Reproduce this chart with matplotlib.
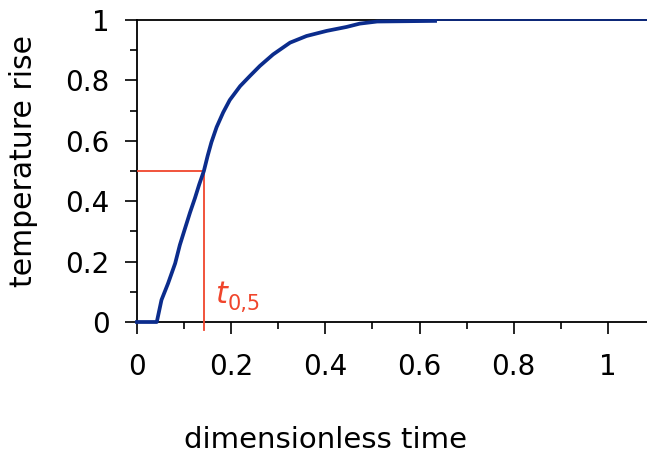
import matplotlib.pyplot as plt
from matplotlib.ticker import MultipleLocator

plt.rcParams['font.family'] = ['DejaVu Sans']

# normalised rear-face temperature vs dimensionless time
t = [0, 0.042, 0.052, 0.066, 0.081, 0.091, 0.102, 0.1125, 0.123, 0.132, 0.142,
     0.150, 0.158, 0.169, 0.183, 0.197, 0.219, 0.240, 0.261, 0.289, 0.325,
     0.360, 0.403, 0.445, 0.473, 0.51, 0.633]
v = [0, 0, 0.073, 0.128, 0.194, 0.255, 0.31, 0.362, 0.41, 0.455, 0.50,
     0.55, 0.595, 0.645, 0.694, 0.735, 0.781, 0.815, 0.848, 0.886, 0.925,
     0.947, 0.964, 0.977, 0.988, 0.995, 0.997]
t_tail = [0.633, 1.083]
v_tail = [1.0, 1.0]
t_half = 0.142
v_half = 0.5

blue = '#0b2c8c'
red = '#f0452c'

fig = plt.figure(figsize=(6.47, 4.55), dpi=100)
ax = fig.add_axes([137/647, 133/455, 510/647, 302/455])

ax.plot(t, v, color=blue, lw=2.7, solid_joinstyle='round', zorder=4, clip_on=False)
ax.plot(t_tail, v_tail, color=blue, lw=1.2, zorder=4, clip_on=False)

# half-rise time marker
ax.plot([0, t_half], [v_half, v_half], color=red, lw=1.3, zorder=3)
ax.plot([t_half, t_half], [-0.027, v_half], color=red, lw=1.3, zorder=3, clip_on=False)
ax.text(0.166, 0.063, 't', color=red, fontsize=22, style='italic', ha='left', va='baseline')
ax.text(0.193, 0.040, '0,5', color=red, fontsize=15, ha='left', va='baseline')

ax.set_xlim(0, 1.083)
ax.set_ylim(0, 1)
ax.xaxis.set_minor_locator(MultipleLocator(0.1))
ax.yaxis.set_minor_locator(MultipleLocator(0.1))
ax.set_xticks([0, 0.2, 0.4, 0.6, 0.8, 1.0])
ax.set_xticklabels(['0', '0.2', '0.4', '0.6', '0.8', '1'])
ax.set_yticks([0, 0.2, 0.4, 0.6, 0.8, 1.0])
ax.set_yticklabels(['0', '0.2', '0.4', '0.6', '0.8', '1'])

ax.tick_params(which='major', direction='out', length=8.6, width=1.2, labelsize=20, colors='black')
ax.tick_params(which='minor', direction='out', length=5.2, width=1.2)
ax.tick_params(axis='y', which='major', pad=11)
ax.tick_params(axis='x', which='major', pad=14)

ax.spines['right'].set_visible(False)
for side in ['left', 'bottom', 'top']:
    ax.spines[side].set_linewidth(1.3)
    ax.spines[side].set_color('black')

fig.text(24/647, 1 - 161/455, 'temperature rise', rotation=90, fontsize=21.5,
         ha='center', va='center')
fig.text(325/647, 1 - 440/455, 'dimensionless time', fontsize=21,
         ha='center', va='center')

fig.savefig('out.png', dpi=100)
